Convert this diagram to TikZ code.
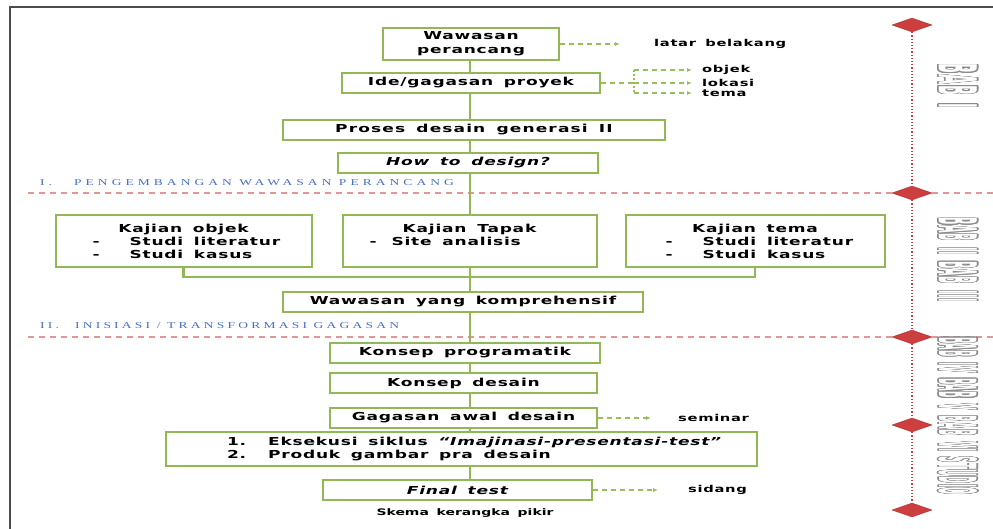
\documentclass[tikz,border=0pt]{standalone}
\usepackage{fontspec}
\setmainfont{DejaVu Sans}[FakeStretch=1.55,LetterSpace=7,WordSpace=1.6]
\newfontfamily\headfont{Liberation Serif}[FakeStretch=1.5,LetterSpace=45]
\usepackage{contour}
\usetikzlibrary{positioning,shapes.geometric,arrows.meta}
\definecolor{boxgreen}{RGB}{146,184,86}
\definecolor{sidegreen}{RGB}{150,190,90}
\definecolor{sectred}{RGB}{228,150,150}
\definecolor{babred}{RGB}{205,62,62}
\definecolor{headblue}{RGB}{70,110,200}
\definecolor{babgray}{RGB}{140,140,140}
\contourlength{1pt}
\newcommand{\babword}[1]{\contour{babgray}{\textcolor{white}{#1}}}
\newcommand{\itemline}[3]{\hspace*{#1}-\hspace{#2}#3}

\begin{document}
\begin{tikzpicture}[x=1pt,y=-1pt,
  box/.style={draw=boxgreen,line width=2pt,fill=white,inner sep=3pt,minimum height=20pt,font=\bfseries\fontsize{11}{14}\selectfont},
  kbox/.style={box,minimum height=52pt,align=left,font=\bfseries\fontsize{11}{13}\selectfont},
  link/.style={boxgreen,line width=2.5pt},
  sidearrow/.style={sidegreen,line width=1.2pt,dash pattern=on 5pt off 4pt,-{Latex[length=5pt,width=4pt]}},
  sidelabel/.style={font=\bfseries\fontsize{9.5}{12}\selectfont,inner sep=0pt,anchor=west},
  sectline/.style={sectred,line width=1.2pt,dash pattern=on 6pt off 5pt},
  sectlabel/.style={headblue,font=\headfont\fontsize{9}{10}\selectfont,anchor=west,inner sep=0pt},
  babmark/.style={diamond,fill=babred,draw=babred!80!black,line width=0.4pt,minimum width=40pt,minimum height=14pt,inner sep=0pt},
  babline/.style={babred,line width=1.2pt,dotted},
  babtext/.style={rotate=-90,inner sep=0pt,font=\bfseries\fontsize{30}{30}\selectfont}]
\useasboundingbox (0,0) rectangle (993,529);
\draw[gray!60!black,line width=1.5pt] (10,540) -- (10,7) -- (1000,7);

% bab markers on the right
\foreach \n/\y in {1/25,2/193,3/337,4/425,5/510}
  \node[babmark] (d\n) at (912,\y) {};
\foreach \a/\b in {1/2,2/3,3/4,4/5}
  \draw[babline] (d\a.south) -- (d\b.north);
\draw[sectline] (28,193) -- (d2.west);
\draw[sectline] (d2.east) -- (993,193);
\draw[sectline] (28,337) -- (d3.west);
\draw[sectline] (d3.east) -- (993,337);
\node[babtext] (bab1) at (957,86) {\resizebox{44pt}{38pt}{\babword{BAB I}}};
\node[babtext] (bab2) at (957,260) {\resizebox{84pt}{38pt}{\babword{BAB II BAB III}}};
\node[babtext] (bab3) at (957,416) {\resizebox{158pt}{38pt}{\babword{BAB IV BAB V BAB VI STUDIO}}};

% section titles
\node[sectlabel] (sec1) at (40,183) {I.\hspace{22pt}PENGEMBANGAN WAWASAN PERANCANG};
\node[sectlabel] (sec2) at (40,326) {\addfontfeatures{LetterSpace=36}II.\hspace{16pt}INISIASI / TRANSFORMASI GAGASAN};

% main flow
\coordinate (trunk) at (470,0);
\node[box,minimum width=176pt,minimum height=32pt,align=center] (wp) at (471,44) {Wawasan\\perancang};
\node[box,minimum width=258pt] (ide) at (471,83) {Ide/gagasan proyek};
\node[box,minimum width=382pt] (gen) at (474,130) {\addfontfeatures{LetterSpace=10}Proses desain generasi II};
\node[box,minimum width=260pt,font=\bfseries\itshape\fontsize{11}{14}\selectfont] (how) at (468,163) {How to design?};
\node[kbox] (kob) at (183.5,241) {\makebox[250pt]{Kajian objek}\\\itemline{34pt}{30pt}{Studi literatur}\\\itemline{34pt}{30pt}{Studi kasus}};
\node[kbox] (kta) at (469.5,241) {\makebox[248pt]{Kajian Tapak}\\\itemline{24pt}{15pt}{Site analisis}\\\mbox{}};
\node[kbox] (kte) at (755,241) {\makebox[253pt]{Kajian tema}\\\itemline{37pt}{30pt}{Studi literatur}\\\itemline{37pt}{30pt}{Studi kasus}};
\node[box,minimum width=360pt] (kom) at (463,302) {Wawasan yang komprehensif};
\node[box,minimum width=270pt] (kpr) at (465,353) {Konsep programatik};
\node[box,minimum width=267pt] (kds) at (463.5,383) {Konsep desain};
\node[box,minimum width=267pt] (gad) at (463.5,418) {Gagasan awal desain};
\node[box,minimum height=34pt,align=left,font=\bfseries\fontsize{11}{13}\selectfont] (eks) at (461.5,449) {\makebox[585pt][l]{\hspace*{58pt}1.\hspace{22pt}Eksekusi siklus \textit{“Imajinasi-presentasi-test”}}\\\hspace*{58pt}2.\hspace{22pt}Produk gambar pra desain};
\node[box,minimum width=269pt,font=\bfseries\itshape\fontsize{11}{14}\selectfont] (fin) at (457.5,490) {Final test};
\node[font=\bfseries\fontsize{9}{11}\selectfont,inner sep=0pt] (cap) at (465,513) {\addfontfeatures{LetterSpace=0}Skema kerangka pikir};

% trunk links
\foreach \a/\b in {wp/ide,ide/gen,gen/how,how/kta,kta/kom,kom/kpr,kpr/kds,kds/gad,gad/eks,eks/fin}
  \draw[link] (\a.south -| trunk) -- (\b.north -| trunk);
\coordinate (bus) at (0,277);
\draw[link] (kob.south) -- (kob.south |- bus) -- (kte.south |- bus) -- (kte.south);

% side notes
\coordinate[right=60pt of wp.east] (wpend);
\draw[sidearrow] (wp.east) -- (wpend);
\node[sidelabel,right=34pt of wpend] (latar) {latar belakang};
\coordinate[right=33pt of ide.east] (fork);
\coordinate[above=13pt of fork] (forktop);
\coordinate[below=10pt of fork] (forkbot);
\draw[sidegreen,line width=1.2pt,dash pattern=on 2pt off 2pt] (forktop) -- (forkbot);
\draw[sidegreen,line width=1.2pt,dash pattern=on 5pt off 4pt] (ide.east) -- (fork);
\coordinate[right=58pt of forktop] (objend);
\coordinate[right=58pt of fork] (lokend);
\coordinate[below=10pt of lokend] (temend);
\draw[sidearrow] (forktop) -- (objend);
\draw[sidearrow] (fork) -- (lokend);
\draw[sidearrow] (forkbot) -- (temend);
\node[sidelabel,right=10pt of objend] (objek) {objek};
\node[sidelabel,right=10pt of lokend] (lokasi) {lokasi};
\node[sidelabel,right=10pt of temend] (tema) {tema};
\coordinate[right=53pt of gad.east] (gadend);
\draw[sidearrow] (gad.east) -- (gadend);
\node[sidelabel,right=27pt of gadend] (seminar) {seminar};
\coordinate[right=65pt of fin.east] (finend);
\draw[sidearrow] (fin.east) -- (finend);
\node[sidelabel,right=30pt of finend] (sidang) {sidang};
\end{tikzpicture}
\end{document}
